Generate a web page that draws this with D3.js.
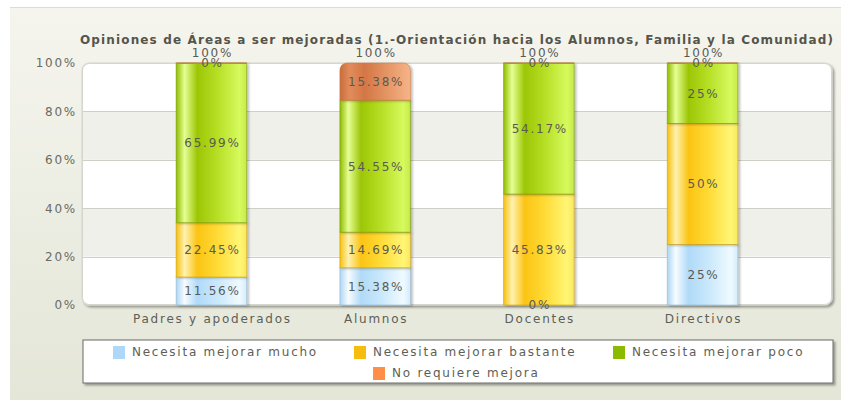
<!DOCTYPE html>
<html><head><meta charset="utf-8">
<script src="https://cdn.jsdelivr.net/npm/d3@7/dist/d3.min.js"></script>
<style>body{margin:0;background:#fff}svg{display:block}text{font-family:"DejaVu Sans",Verdana,sans-serif}</style>
</head><body><svg id="c" width="841" height="400"></svg>
<script>
const title = "Opiniones de Áreas a ser mejoradas (1.-Orientación hacia los Alumnos, Familia y la Comunidad)";
const categories = ["Padres y apoderados", "Alumnos", "Docentes", "Directivos"];
const seriesNames = ["Necesita mejorar mucho", "Necesita mejorar bastante", "Necesita mejorar poco", "No requiere mejora"];
const mucho    = [11.56, 15.38, 0, 25];
const bastante = [22.45, 14.69, 45.83, 50];
const poco     = [65.99, 54.55, 54.17, 25];
const noReq    = [0, 15.38, 0, 0];
const totals   = ["100%", "100%", "100%", "100%"];
const yTicks   = [0, 20, 40, 60, 80, 100];
const colors   = ["#AFD8F8", "#F6BD0F", "#8BBA00", "#FF8E46"];

const series = [mucho, bastante, poco, noReq];
const svg = d3.select("#c");
const defs = svg.append("defs");
const LS = "1.75px";

const bg = defs.append("linearGradient").attr("id","bg").attr("x1",0).attr("x2",0).attr("y1",0).attr("y2",1);
bg.append("stop").attr("offset",0).attr("stop-color","#f5f5ee");
bg.append("stop").attr("offset",1).attr("stop-color","#e4e6d8");
const sh = defs.append("filter").attr("id","sh").attr("x","-10%").attr("y","-10%").attr("width","130%").attr("height","130%");
sh.append("feDropShadow").attr("dx",2).attr("dy",2).attr("stdDeviation",1.3).attr("flood-color","#000").attr("flood-opacity",0.35);
const sh2 = defs.append("filter").attr("id","sh2").attr("x","-20%").attr("y","-5%").attr("width","150%").attr("height","120%");
sh2.append("feDropShadow").attr("dx",2).attr("dy",1).attr("stdDeviation",1.2).attr("flood-color","#000").attr("flood-opacity",0.25);

const gradStops = [
  [["0","#aed6f4"],["0.12","#f6fcff"],["0.3","#b0daf8"],["0.6","#cbe9fc"],["0.9","#f0faff"],["1","#d2ecfc"]],
  [["0","#f6c010"],["0.12","#fff2b0"],["0.3","#fbc414"],["0.6","#ffdc38"],["0.9","#fff676"],["1","#fae85c"]],
  [["0","#90bc00"],["0.12","#e6ff94"],["0.3","#9cc604"],["0.6","#b8e028"],["0.9","#d6fa5e"],["1","#c6ea48"]],
  [["0","#c86c3c"],["0.14","#e28c5c"],["0.35","#d47646"],["0.7","#e69868"],["1","#f6b488"]]
];
gradStops.forEach((st,i)=>{
  const g = defs.append("linearGradient").attr("id","g"+i).attr("x1",0).attr("x2",1).attr("y1",0).attr("y2",0);
  st.forEach(s=>g.append("stop").attr("offset",s[0]).attr("stop-color",s[1]));
});

svg.append("rect").attr("x",10).attr("y",7).attr("width",831).attr("height",393).attr("fill","url(#bg)");
svg.append("line").attr("x1",10).attr("x2",841).attr("y1",7.5).attr("y2",7.5).attr("stroke","#dcdcd4");

const L = 82, R = 832, T = 63, B = 305;
const x = d3.scaleBand().domain(categories).range([83, 831]).paddingInner(0.569).paddingOuter(0.569);
const y = d3.scaleLinear().domain([0, 100]).range([B, T]);

const clipR = 7;
svg.append("rect").attr("x",L).attr("y",T).attr("width",R-L).attr("height",B-T).attr("rx",clipR)
  .attr("fill","#fff").attr("stroke","#d4d4cc").attr("filter","url(#sh)");
defs.append("clipPath").attr("id","pc").append("rect").attr("x",L).attr("y",T).attr("width",R-L).attr("height",B-T).attr("rx",clipR);
const bands = svg.append("g").attr("clip-path","url(#pc)");
for (let i = 0; i < yTicks.length-1; i++) {
  if (i % 2 === 1) bands.append("rect").attr("x",L).attr("width",R-L)
    .attr("y",y(yTicks[i+1])).attr("height",y(yTicks[i])-y(yTicks[i+1])).attr("fill","#f0f0ea");
}
svg.append("g").selectAll("line").data(yTicks.filter(t=>t>0&&t<100)).join("line")
  .attr("x1",L).attr("x2",R).attr("y1",d=>Math.round(y(d))+0.5).attr("y2",d=>Math.round(y(d))+0.5)
  .attr("stroke","#cfcfc8");
svg.append("rect").attr("x",L+0.5).attr("y",T+0.5).attr("width",R-L-1).attr("height",B-T-1).attr("rx",clipR)
  .attr("fill","none").attr("stroke","#d6d6ce");

const yAxis = d3.axisLeft(y).tickValues(yTicks).tickFormat(d=>d+"%").tickSize(0).tickPadding(0);
const ya = svg.append("g").attr("transform",`translate(77,0)`).call(yAxis);
ya.select(".domain").remove();
ya.selectAll("text").attr("font-size",12).attr("fill","#6a6a62").attr("letter-spacing",LS)
  .attr("font-family","'DejaVu Sans',Verdana,sans-serif");

const xAxis = d3.axisBottom(x).tickSize(0).tickPadding(0);
const xa = svg.append("g").attr("transform",`translate(0,${B+9})`).call(xAxis);
xa.select(".domain").remove();
xa.selectAll("text").attr("font-size",12).attr("fill","#5e5e56").attr("letter-spacing",LS)
  .attr("font-family","'DejaVu Sans',Verdana,sans-serif").attr("dy","0.75em").attr("dx","1px");

const stackData = categories.map((c,i)=>{ const o={cat:c}; series.forEach((s,j)=>o["s"+j]=s[i]); return o; });
const stack = d3.stack().keys(series.map((s,j)=>"s"+j))(stackData);
const barG = svg.append("g");
stack.forEach((layer,j)=>{
  layer.forEach((d,i)=>{
    const x0 = x(categories[i]), w = x.bandwidth();
    const y0 = y(d[0]), y1 = y(d[1]), h = y0 - y1;
    const stroke = d3.color(colors[j]).darker(0.6);
    if (h <= 0.01) {
      if (j === 3) barG.append("rect").attr("x",x0).attr("y",y1-0.5).attr("width",w).attr("height",1.5).attr("fill","#c8804c");
      return;
    }
    if (j === 3) {
      const r = Math.min(8, h);
      const p = `M${x0},${y0} V${y1+r} Q${x0},${y1} ${x0+r},${y1} H${x0+w-r} Q${x0+w},${y1} ${x0+w},${y1+r} V${y0} Z`;
      barG.append("path").attr("d",p).attr("fill","url(#g3)").attr("stroke",stroke).attr("stroke-opacity",0.5).attr("filter","url(#sh2)");
    } else {
      barG.append("rect").attr("x",x0).attr("y",y1).attr("width",w).attr("height",h)
        .attr("fill","url(#g"+j+")").attr("stroke",stroke).attr("stroke-opacity",0.55).attr("filter","url(#sh2)");
    }
  });
});

const lab = svg.append("g").attr("font-size",12).attr("fill","#5a5a54").attr("letter-spacing",LS).attr("text-anchor","middle");
stack.forEach((layer,j)=>{
  layer.forEach((d,i)=>{
    const v = series[j][i];
    if (j === 0 && v === 0 && i !== 2) return;
    const cx = x(categories[i]) + x.bandwidth()/2 + 1;
    lab.append("text").attr("x",cx).attr("y",(y(d[0])+y(d[1]))/2).attr("dy","0.36em").text(v+"%");
  });
});
categories.forEach((c,i)=>{
  lab.append("text").attr("x",x(c)+x.bandwidth()/2+1).attr("y",T-6).text(totals[i]);
});

svg.append("text").attr("x",456.5).attr("y",44).attr("text-anchor","middle").attr("font-size",12)
  .attr("font-weight","bold").attr("fill","#55554b").attr("textLength",753).attr("lengthAdjust","spacing").text(title);

svg.append("rect").attr("x",83).attr("y",340).attr("width",750).attr("height",43).attr("fill","#fff")
  .attr("stroke","#6a6a66").attr("filter","url(#sh)");
const legPos = [[113,352],[354,352],[613,352],[373,373]];
const lg = svg.append("g");
seriesNames.forEach((n,j)=>{
  const [lx,ly] = legPos[j];
  lg.append("rect").attr("x",lx).attr("y",ly-6).attr("width",12).attr("height",13).attr("fill",colors[j]);
  lg.append("text").attr("x",lx+19).attr("y",ly).attr("dy","0.36em").attr("font-size",12)
    .attr("fill","#5e5e56").attr("letter-spacing",LS).text(n);
});
</script></body></html>
